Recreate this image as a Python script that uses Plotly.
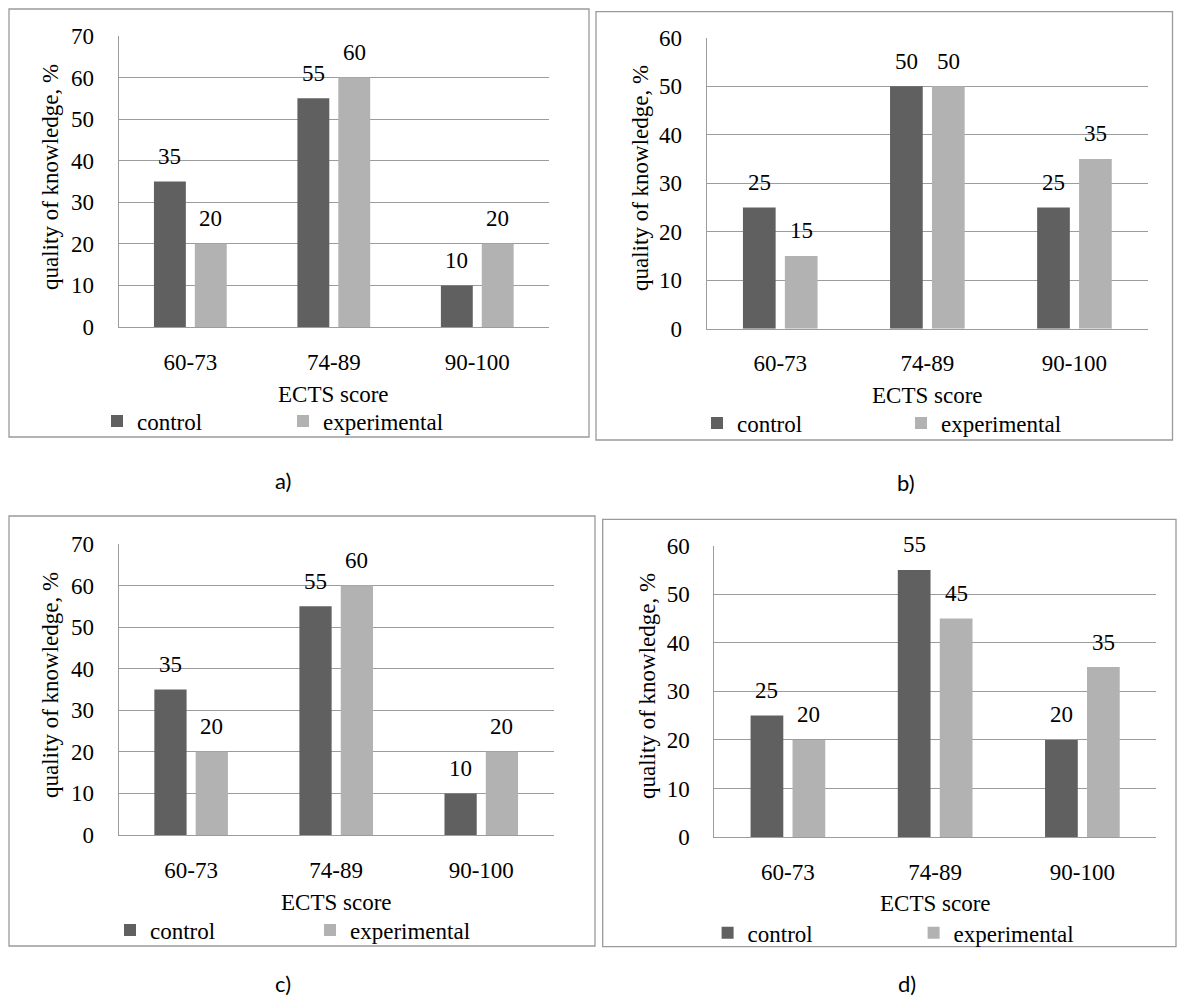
import plotly.graph_objects as go

# ---------------- data ----------------
categories = ["60-73", "74-89", "90-100"]
series_names = ["control", "experimental"]

control_a = [35, 55, 10]
experimental_a = [20, 60, 20]
control_b = [25, 50, 25]
experimental_b = [15, 50, 35]
control_c = [35, 55, 10]
experimental_c = [20, 60, 20]
control_d = [25, 55, 20]
experimental_d = [20, 45, 35]

y_max = {"a": 70, "b": 60, "c": 70, "d": 60}
panel_labels = ["a)", "b)", "c)", "d)"]
y_title = "quality of knowledge, %"
x_title = "ECTS score"

# ---------------- styling / layout (pixels) ----------------
W, H = 1177, 1000
COL_CTRL = "#606060"
COL_EXP = "#b2b2b2"
GRID = "#9c9c9c"
BOX = "#9a9a9a"
SERIF = "Liberation Serif, Times New Roman, serif"
FS = 23
BARGAP = 0.43
BARGROUPGAP = 0.22

panels = [
    dict(key="a", ctrl=control_a, exp=experimental_a,
         plot=(118.6, 549, 36, 327), box=(9, 9, 589, 437),
         leg_text=137, leg_step=186, leg_y=421, ects_y=394,
         lab=(283, 480), yt_x=50, yt_y=177),
    dict(key="b", ctrl=control_b, exp=experimental_b,
         plot=(706.7, 1148, 37.7, 328.7), box=(596, 11.7, 1172.5, 440),
         leg_text=737, leg_step=204, leg_y=423, ects_y=395,
         lab=(906, 482), yt_x=641, yt_y=178),
    dict(key="c", ctrl=control_c, exp=experimental_c,
         plot=(118.6, 553.8, 544, 835), box=(9, 516, 595, 946),
         leg_text=150, leg_step=200, leg_y=930, ects_y=902,
         lab=(283, 983), yt_x=50, yt_y=685),
    dict(key="d", ctrl=control_d, exp=experimental_d,
         plot=(714.3, 1156, 545.7, 837), box=(602.7, 519.3, 1176, 946.7),
         leg_text=747.6, leg_step=206, leg_y=932.7, ects_y=903,
         lab=(907, 983), yt_x=647, yt_y=686),
]

fig = go.Figure()
annotations = []
shapes = []
layout_axes = {}
slot = (1 - BARGAP) / 2

for k, p in enumerate(panels, start=1):
    sfx = "" if k == 1 else str(k)
    xa, ya = "x" + sfx, "y" + sfx
    leg = "legend" + sfx
    l, r, t, b = p["plot"]
    for name, vals, col, sign in [(series_names[0], p["ctrl"], COL_CTRL, -1),
                                  (series_names[1], p["exp"], COL_EXP, 1)]:
        fig.add_trace(go.Bar(
            x=categories, y=vals, name=name, marker_color=col,
            marker_line_width=0, xaxis=xa, yaxis=ya, legend=leg,
            hoverinfo="skip"))
        for i, v in enumerate(vals):
            annotations.append(dict(
                x=i + sign * slot / 2, y=v, xref=xa, yref=ya,
                text=str(v), showarrow=False, yanchor="middle",
                yshift=25, font=dict(family=SERIF, size=FS, color="black")))

    layout_axes["xaxis" + sfx] = dict(
        domain=[l / W, r / W], anchor=ya, type="category", automargin=False,
        showline=True, linecolor=GRID, linewidth=1, showgrid=False,
        ticks="", ticklabelstandoff=14,
        tickfont=dict(family=SERIF, size=FS, color="black"), fixedrange=True)
    layout_axes["yaxis" + sfx] = dict(
        domain=[1 - b / H, 1 - t / H], anchor=xa, automargin=False,
        range=[0, y_max[p["key"]]], dtick=10, tick0=0,
        showline=True, linecolor=GRID, linewidth=1,
        showgrid=True, gridcolor=GRID, gridwidth=1, zeroline=False,
        ticks="", ticklabelstandoff=19,
        tickfont=dict(family=SERIF, size=FS, color="black"), fixedrange=True)

    layout_axes[leg] = dict(
        orientation="h", x=(p["leg_text"] - 40) / W, y=1 - p["leg_y"] / H,
        xanchor="left", yanchor="middle", entrywidth=p["leg_step"] - 45,
        itemwidth=30, bgcolor="rgba(0,0,0,0)", traceorder="normal",
        font=dict(family=SERIF, size=FS, color="black"))

    # axis titles
    annotations.append(dict(
        x=(l + r) / 2 / W, y=1 - p["ects_y"] / H, xref="paper", yref="paper",
        text=x_title, showarrow=False, xanchor="center", yanchor="middle",
        font=dict(family=SERIF, size=FS, color="black")))
    annotations.append(dict(
        x=p["yt_x"] / W, y=1 - p["yt_y"] / H, xref="paper", yref="paper",
        text=y_title, showarrow=False, textangle=-90,
        xanchor="center", yanchor="middle",
        font=dict(family=SERIF, size=FS, color="black")))
    # panel label
    annotations.append(dict(
        x=p["lab"][0] / W, y=1 - p["lab"][1] / H, xref="paper", yref="paper",
        text=panel_labels[k - 1], showarrow=False, xanchor="center",
        yanchor="middle", font=dict(family="Lato", size=22, color="black")))
    # panel frame
    bx0, by0, bx1, by1 = p["box"]
    shapes.append(dict(type="rect", xref="paper", yref="paper",
                       x0=bx0 / W, x1=bx1 / W, y0=1 - by1 / H, y1=1 - by0 / H,
                       line=dict(color=BOX, width=1.3), fillcolor="rgba(0,0,0,0)",
                       layer="below"))

fig.update_layout(
    template="none",
    width=W, height=H, autosize=False,
    margin=dict(l=0, r=0, t=0, b=0, pad=0, autoexpand=False),
    paper_bgcolor="white", plot_bgcolor="white",
    barmode="group", bargap=BARGAP, bargroupgap=BARGROUPGAP,
    annotations=annotations, shapes=shapes, showlegend=True,
    **layout_axes)

fig.write_html(
    "out.html",
    config={"responsive": False, "displayModeBar": False},
    post_script="document.body.style.margin='0px';document.body.style.overflow='hidden';")
